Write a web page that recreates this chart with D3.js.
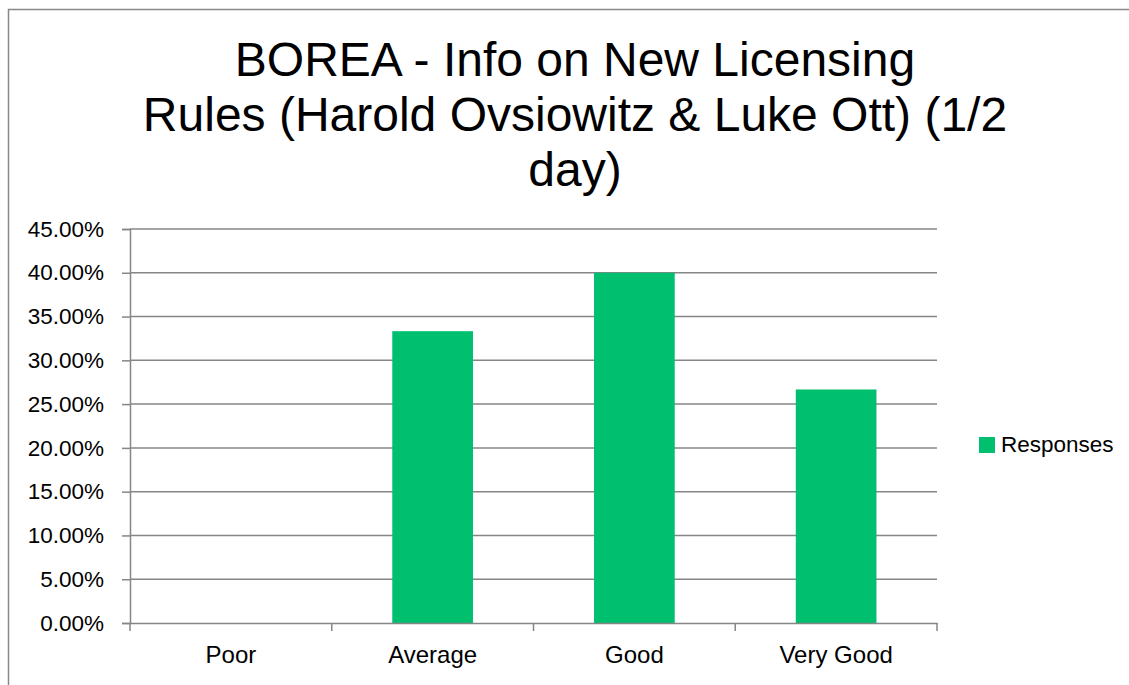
<!DOCTYPE html>
<html lang="en">
<head>
<meta charset="utf-8">
<title>BOREA - Info on New Licensing Rules</title>
<script src="https://cdn.jsdelivr.net/npm/d3@7"></script>
<style>
  body { margin: 0; background: #fff; }
  text { font-family: "Liberation Sans", Arial, sans-serif; fill: #000; }
</style>
</head>
<body>
<script>

// Data
var categories = ["Poor", "Average", "Good", "Very Good"];
var responses = [0, 0.3333, 0.40, 0.2667];
var yTicks = [0, 0.05, 0.10, 0.15, 0.20, 0.25, 0.30, 0.35, 0.40, 0.45];
var titleLines = ["BOREA - Info on New Licensing", "Rules (Harold Ovsiowitz & Luke Ott) (1/2", "day)"];
var seriesName = "Responses";

var width = 1129,
    height = 685;

var svg = d3.select("body")
    .append("svg")
    .attr("width", width)
    .attr("height", height);

// outer chart border
svg.append("rect")
    .attr("x", 8.5).attr("y", 9.5)
    .attr("width", 1140).attr("height", 700)
    .attr("fill", "white")
    .attr("stroke", "#888")
    .attr("stroke-width", 1.5);

var plot = { left: 130, right: 937, top: 229, bottom: 623 };

var x = d3.scaleBand()
    .domain(categories)
    .range([plot.left, plot.right])
    .paddingInner(0.6)
    .paddingOuter(0.3);

var y = d3.scaleLinear()
    .domain([0, 0.45])
    .range([plot.bottom, plot.top]);

// title
svg.append("text")
    .attr("text-anchor", "middle")
    .attr("font-size", 48)
    .selectAll("tspan")
    .data(titleLines)
    .join("tspan")
    .attr("x", 575)
    .attr("y", function(d, i){ return 76 + i*55; })
    .text(function(d){ return d; });

// gridlines
svg.append("g")
    .selectAll("line")
    .data(yTicks.slice(1))
    .join("line")
    .attr("x1", plot.left).attr("x2", plot.right)
    .attr("y1", function(d){ return y(d); })
    .attr("y2", function(d){ return y(d); })
    .attr("stroke", "#868686")
    .attr("stroke-width", 1.5);

// bars
svg.append("g")
    .selectAll("rect")
    .data(responses)
    .join("rect")
    .attr("x", function(d, i){ return x(categories[i]); })
    .attr("width", x.bandwidth())
    .attr("y", function(d){ return y(d); })
    .attr("height", function(d){ return y(0) - y(d); })
    .attr("fill", "#00BF6F");

// y axis
var yAxis = svg.append("g")
    .attr("transform", "translate(" + plot.left + ",0)")
    .call(d3.axisLeft(y).tickValues(yTicks).tickFormat(d3.format(".2%")).tickSize(8).tickPadding(18));

yAxis.selectAll("text").attr("font-size", 22.5).attr("font-family", "Liberation Sans, Arial, sans-serif");

// x axis
var xAxis = svg.append("g")
    .attr("transform", "translate(0," + plot.bottom + ")")
    .call(d3.axisBottom(x).tickSize(0).tickPadding(23));

xAxis.selectAll("text").attr("font-size", 24).attr("font-family", "Liberation Sans, Arial, sans-serif");

// category boundary ticks
var bounds = d3.range(categories.length + 1).map(function(i){ return plot.left + i*(plot.right - plot.left)/categories.length; });
xAxis.append("g")
    .selectAll("line")
    .data(bounds)
    .join("line")
    .attr("x1", function(d){ return d; }).attr("x2", function(d){ return d; })
    .attr("y1", 0).attr("y2", 8)
    .attr("stroke", "#868686")
    .attr("stroke-width", 1.5);

svg.selectAll(".domain").attr("stroke", "#868686").attr("stroke-width", 1.5);
svg.selectAll(".tick line").attr("stroke", "#868686").attr("stroke-width", 1.5);

// legend
var legend = svg.append("g").attr("transform", "translate(979,437)");
legend.append("rect")
    .attr("width", 16).attr("height", 16)
    .attr("fill", "#00BF6F");
legend.append("text")
    .attr("x", 22).attr("y", 15)
    .attr("font-size", 22.5)
    .text(seriesName);

</script>
</body>
</html>
